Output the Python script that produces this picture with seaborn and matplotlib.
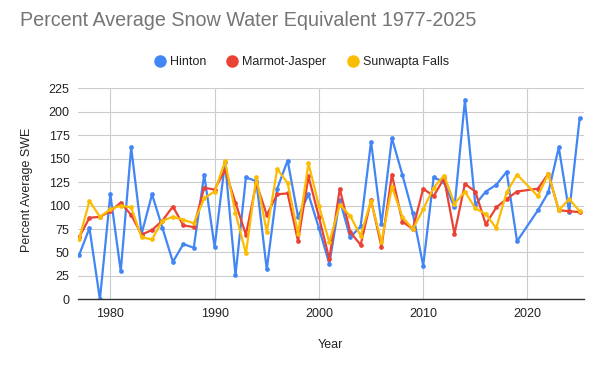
import numpy as np
import pandas as pd
import matplotlib
matplotlib.use("Agg")
import matplotlib.pyplot as plt
import seaborn as sns
from matplotlib.lines import Line2D

years = list(range(1977, 2026))
hinton = [47, 76, 0, 112, 30, 162, 70, 112, 76, 40,
          59, 55, 133, 56, 146, 26, 130, 126, 32, 118,
          148, 88, 112, 76, 38, 106, 66, 78, 168, 80,
          172, 133, 92, 36, 130, 125, 98, 212, 101, 115,
          122, 136, 62, None, 95, 114, 162, 93, 193]
marmot = [66, 87, 88, 94, 103, 90, 69, 74, 84, 99,
          79, 77, 119, 117, 138, 103, 69, 124, 90, 112,
          113, 62, 131, 88, 43, 118, 72, 58, 106, 56,
          133, 83, 75, 118, 110, 129, 70, 123, 115, 80,
          98, 107, 115, None, 118, 134, 95, 94, 93]
sunwapta = [64, 105, 88, 96, 100, 98, 66, 64, 84, 88,
            85, 81, 108, 115, 147, 92, 49, 130, 72, 139,
            124, 70, 145, 100, 61, 101, 89, 68, 105, 61,
            120, 88, 75, 96, 119, 132, 102, 115, 97, 91,
            76, 114, 133, None, 110, 134, 95, 107, 94]
series_names = ["Hinton", "Marmot-Jasper", "Sunwapta Falls"]
colors = ["#4285F4", "#EA4335", "#FBBC04"]
yticks = list(range(0, 226, 25))
xticks = [1980, 1990, 2000, 2010, 2020]

frames = []
for name, vals in zip(series_names, [hinton, marmot, sunwapta]):
    frames.append(pd.DataFrame({"Year": years, "SWE": vals, "Station": name}))
df = pd.concat(frames, ignore_index=True)
df["SWE"] = pd.to_numeric(df["SWE"])
df = df.dropna()

sns.set_style("white")
plt.rcParams['font.family'] = ['Liberation Sans', 'DejaVu Sans']

fig = plt.figure(figsize=(6, 3.71), dpi=100)
ax = fig.add_axes([0.13, 0.193, 0.843, 0.569])

sns.lineplot(data=df, x="Year", y="SWE", hue="Station", hue_order=series_names,
             palette=colors, marker="o", markersize=3.4, markeredgewidth=0,
             linewidth=1.6, legend=False, ax=ax, sort=True)

ax.set_xlim(1976.9, 2025.4)
ax.set_ylim(0, 225)
ax.set_yticks(yticks)
ax.set_xticks(xticks)
ax.set_xticklabels([str(x) for x in xticks])
ax.grid(True, color="#cccccc", linewidth=0.8)
ax.set_axisbelow(True)
for s in ["top", "right", "left"]:
    ax.spines[s].set_visible(False)
ax.spines["bottom"].set_color("#333333")
ax.spines["bottom"].set_linewidth(1.0)
ax.tick_params(axis="both", length=0, labelsize=9, colors="#222222")
ax.tick_params(axis="y", pad=6)
ax.tick_params(axis="x", pad=6)
ax.set_xlabel("")
ax.set_ylabel("")

fig.text(20 / 600, 1 - 21 / 371, "Percent Average Snow Water Equivalent 1977-2025",
         fontsize=14.2, color="#757575", ha="left", va="center")
fig.text(330 / 600, 1 - 345 / 371, "Year", fontsize=9, color="#222222",
         ha="center", va="center")
fig.text(27 / 600, 1 - 190 / 371, "Percent Average SWE", fontsize=9, color="#222222",
         ha="center", va="center", rotation=90)

handles = [Line2D([0], [0], marker="o", linestyle="", markersize=9,
                  markerfacecolor=c, markeredgewidth=0) for c in colors]
fig.legend(handles, series_names, loc="center", bbox_to_anchor=(301 / 600, 1 - 62 / 371),
           ncol=3, frameon=False, fontsize=9, handletextpad=0.3, columnspacing=1.6,
           handlelength=1.0, labelcolor="#222222")

fig.savefig("out.png", dpi=100)
